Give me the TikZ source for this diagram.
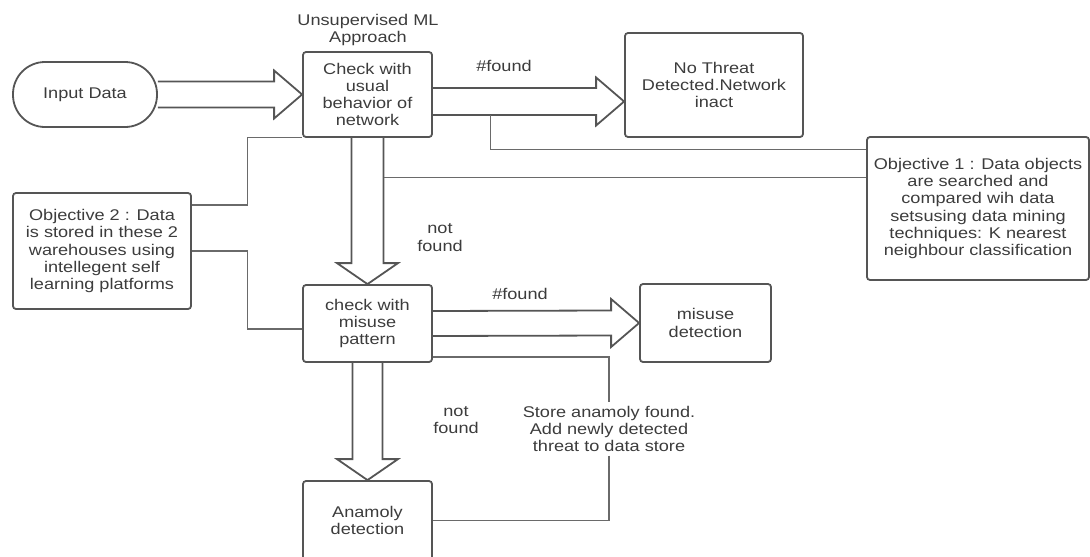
\documentclass[tikz,border=0pt]{standalone}
\usepackage{fontspec}
\setmainfont{Liberation Sans}[FakeStretch=1.17]
\usetikzlibrary{calc}
\definecolor{ink}{HTML}{3C3C3C}
\definecolor{edge}{HTML}{555555}
\definecolor{wire}{HTML}{6A6A6A}

% horizontal block arrow: start, tip, shaft half-width, head half-width
\newcommand\hblock[4]{%
  \draw[barrow] ($(#1)+(0,-#3)$) -- ($(#2)+(-28,-#3)$) -- ($(#2)+(-28,-#4)$)
    -- (#2) -- ($(#2)+(-28,#4)$) -- ($(#2)+(-28,#3)$) -- ($(#1)+(0,#3)$);}
% vertical (downward) block arrow: start, tip, shaft half-width, head half-width
\newcommand\vblock[4]{%
  \draw[barrow] ($(#1)+(-#3,0)$) -- ($(#2)+(-#3,-21)$) -- ($(#2)+(-#4,-21)$)
    -- (#2) -- ($(#2)+(#4,-21)$) -- ($(#2)+(#3,-21)$) -- ($(#1)+(#3,0)$);}

\begin{document}
\begin{tikzpicture}[x=1pt,y=-1pt,
  every node/.style={font=\fontsize{15.5}{17.3}\selectfont, text=ink, align=center},
  box/.style={draw=edge, line width=1.8pt, rounded corners=3pt, inner sep=0pt},
  barrow/.style={draw=edge, line width=1.8pt, line join=miter},
  link/.style={draw=wire, line width=1.1pt},
]
\useasboundingbox (0,0) rectangle (1090,557);
\clip (0,0) rectangle (1090,557);

% process boxes
\node[box, rounded corners=32pt, minimum width=144pt, minimum height=65pt] (in) at (85,94.5) {Input Data};
\node[box, minimum width=129pt, minimum height=85pt] (chk) at (367.5,94.5) {Check with\\usual\\behavior of\\network};
\node[box, minimum width=178pt, minimum height=104pt] (nothreat) at (714,85) {No Threat\\Detected.Network\\inact};
\node[box, minimum width=222pt, minimum height=143pt] (obj1) at (978,208.5)
  {Objective 1 : Data objects\\are searched and\\compared wih data\\setsusing data mining\\techniques: K nearest\\neighbour classification};
\node[box, minimum width=178pt, minimum height=116pt] (obj2) at (102,251)
  {Objective 2 : Data\\is stored in these 2\\warehouses using\\intellegent self\\learning platforms};
\node[box, minimum width=129pt, minimum height=77pt] (chk2) at (367.5,323.5) {check with\\misuse\\pattern};
\node[box, minimum width=131pt, minimum height=78pt] (misuse) at (705.5,323) {misuse\\detection};
\node[box, minimum width=129pt, minimum height=79pt] (anam) at (367.5,520.5) {Anamoly\\detection};

% free labels
\node (unsup) at (368,30) {Unsupervised ML\\Approach};
\node (found1) at (504,66) {\#found};
\node (found2) at (520,294) {\#found};
\node (nf1) at (440,237.5) {not\\found};
\node (nf2) at (456,420) {not\\found};
\node (store) at (609,429) {Store anamoly found.\\Add newly detected\\threat to data store};

% block arrows
\hblock{in.east}{chk.west}{13}{24}
\coordinate (a2s) at ($(chk.east)+(0,7)$);
\coordinate (a2e) at (nothreat.west |- a2s);
\hblock{a2s}{a2e}{13.5}{24}
\hblock{chk2.east}{misuse.west}{12.5}{24}
\vblock{chk.south}{chk2.north}{16}{30.5}
\vblock{chk2.south}{anam.north}{15}{30.5}

% thin connectors
\coordinate (t1) at ($(a2s)+(58,13.5)$);
\draw[link] (t1) |- ($(obj1.north west)+(0,13)$);
\coordinate (t2) at ($(chk.south)+(16,40)$);
\draw[link] (t2) -- (t2 -| obj1.west);
\coordinate (j1) at ($(chk.south west)+(-55,0)$);
\draw[link] ($(obj2.east)+(0,-46)$) -| (j1) -- (chk.south west);
\coordinate (j2) at ($(chk2.west)+(-55,5.5)$);
\draw[link] (obj2.east) -| (j2) -- (j2 -| chk2.west);
\draw[link] ($(chk2.east)+(0,33.5)$) -| (store.north);
\draw[link] (store.south) |- (anam.east);
\end{tikzpicture}
\end{document}
